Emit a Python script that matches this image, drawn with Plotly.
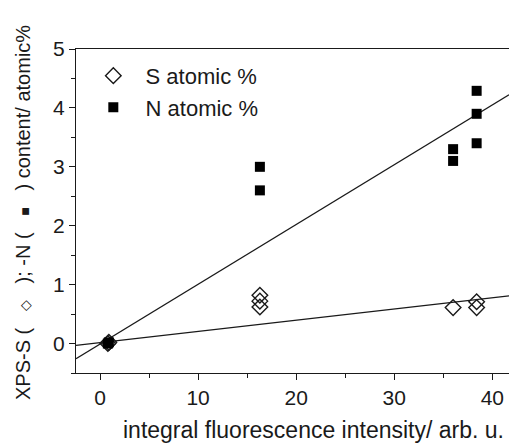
import numpy as np
import plotly.graph_objects as go

# data
s_x = [0.8, 0.9, 16.3, 16.3, 16.3, 36.0, 38.4, 38.4]
s_y = [0.0, 0.02, 0.82, 0.72, 0.62, 0.61, 0.71, 0.61]
n_x = [0.8, 0.9, 16.3, 16.3, 36.0, 36.0, 38.4, 38.4, 38.4]
n_y = [0.0, 0.02, 3.0, 2.6, 3.3, 3.1, 4.29, 3.9, 3.4]

# linear fits (slope, intercept) as drawn
n_fit = (0.1015, -0.01)
s_fit = (0.019, 0.016)

x_range = [-2.45, 41.7]
y_range = [-0.5, 5.0]
x_ticks = [0, 10, 20, 30, 40]
y_ticks = [0, 1, 2, 3, 4, 5]

FONT = "Liberation Sans, Arial, sans-serif"
INK = "#1a1a1a"

fig = go.Figure()

fx = np.array(x_range)
fig.add_trace(go.Scatter(x=fx, y=n_fit[0] * fx + n_fit[1], mode="lines",
                         line=dict(color=INK, width=1.3), showlegend=False))
fig.add_trace(go.Scatter(x=fx, y=s_fit[0] * fx + s_fit[1], mode="lines",
                         line=dict(color=INK, width=1.3), showlegend=False))

fig.add_trace(go.Scatter(x=s_x, y=s_y, mode="markers", name="  S atomic %",
                         legendgroup="s",
                         marker=dict(symbol="diamond-open", size=12, color=INK,
                                     line=dict(width=1.4, color=INK))))
fig.add_trace(go.Scatter(x=n_x, y=n_y, mode="markers", name="  N atomic %",
                         legendgroup="n",
                         marker=dict(symbol="square", size=10, color="black")))

axis_common = dict(showgrid=False, zeroline=False, showline=True,
                   linecolor=INK, linewidth=1.3, ticks="outside",
                   tickcolor=INK, tickwidth=1.3, ticklen=6,
                   tickfont=dict(family=FONT, size=21, color=INK))

fig.update_xaxes(range=x_range, tickvals=x_ticks, mirror=True,
                 minor=dict(ticks="outside", ticklen=4, tickwidth=1.3,
                            tickcolor=INK, dtick=5, tick0=0),
                 **axis_common)
fig.update_yaxes(range=y_range, tickvals=y_ticks,
                 minor=dict(ticks="outside", ticklen=4, tickwidth=1.3,
                            tickcolor=INK, dtick=0.5, tick0=0),
                 **axis_common)

fig.add_annotation(text="integral fluorescence intensity/ arb. u.",
                   xref="paper", yref="paper", x=1.0, y=0, xshift=-3,
                   yshift=-57, xanchor="right", yanchor="middle",
                   showarrow=False,
                   font=dict(family=FONT, size=23, color=INK))
sym = '<span style="font-size:14px;fill:#1a1a1a;color:#1a1a1a">{}</span>'
fig.add_annotation(text="XPS-S (   " + sym.format("\u25c7") + "   ); -N (   "
                   + sym.format("\u25a0") + "   ) content/ atomic%",
                   xref="paper", yref="paper", x=0, y=0.5, xshift=-53,
                   yshift=-2, textangle=-90, xanchor="center",
                   yanchor="middle", showarrow=False,
                   font=dict(family=FONT, size=20, color=INK))

fig.update_layout(
    width=509, height=445,
    margin=dict(l=76, r=0, t=49, b=72),
    paper_bgcolor="white", plot_bgcolor="white",
    legend=dict(x=0.04, y=0.982, xanchor="left", yanchor="top",
                bgcolor="rgba(0,0,0,0)", traceorder="grouped",
                tracegroupgap=0,
                font=dict(family=FONT, size=22, color=INK)),
)

fig.write_html("out.html",
               config={"displayModeBar": False},
               post_script="document.body.style.margin='0';"
                           "document.body.style.overflow='hidden';")
